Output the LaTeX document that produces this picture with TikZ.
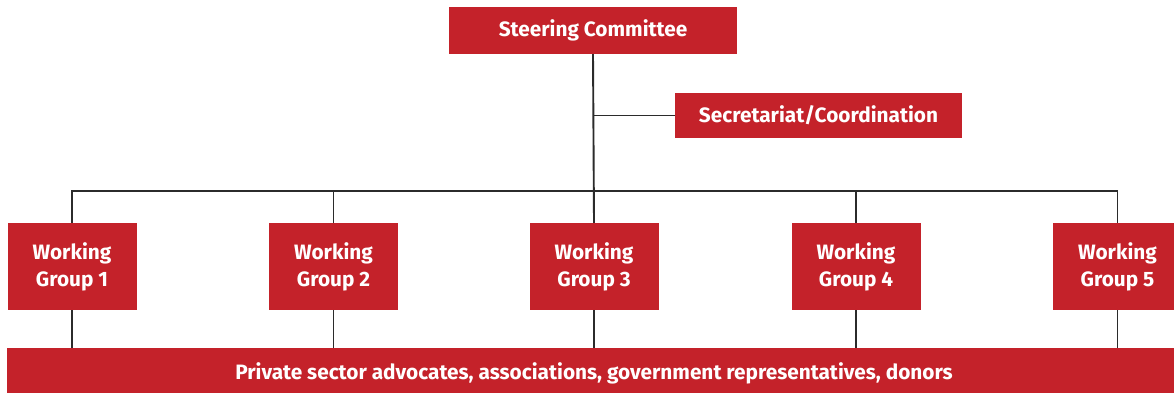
\documentclass[tikz,border=0pt]{standalone}
\usepackage{fontspec}
\setmainfont{Fira Sans}
\usetikzlibrary{calc}
\definecolor{boxred}{HTML}{C4222A}
\definecolor{linegray}{HTML}{2B2B2B}
\begin{document}
\begin{tikzpicture}[x=1pt,y=-1pt,
  redbox/.style={fill=boxred, draw=none, text=white, inner sep=0pt,
    font=\fontsize{20.8}{27}\selectfont\bfseries, align=center},
  link/.style={draw=linegray, line width=1.9pt}]
  \useasboundingbox (0,0) rectangle (1174,392);
  \clip (0,0) rectangle (1174,392);
  % top level
  \node[redbox, minimum width=288pt, minimum height=47pt] (sc) at (593,30.5) {Steering Committee};
  \node[redbox, minimum width=287pt, minimum height=45pt] (sec) at (818.5,115.5) {Secretariat/Coordination};
  % working groups
  \foreach \i/\x in {1/72,2/333.5,3/594,4/856,5/1117.5}{
    \node[redbox, minimum width=129pt, minimum height=87pt] (wg\i) at (\x,266.5) {Working\\Group \i};
  }
  % stakeholder bar
  \node[redbox, minimum width=1174pt, minimum height=50pt] (bar) at (594,373) {Private sector advocates, associations, government representatives, donors};
  % connectors
  \coordinate (bus) at (594,191);
  \draw[link] (sc.south) -- (wg3.north);
  \draw[link] (sec.west) -- (sec.west -| sc.south);
  \draw[link] (wg1.north) |- (bus) -| (wg5.north);
  \foreach \i in {2,4}{
    \draw[link] (wg\i.north) -- (wg\i.north |- bus);
  }
  \foreach \i in {1,2,3,4,5}{
    \draw[link] (wg\i.south) -- (wg\i.south |- bar.north);
  }
\end{tikzpicture}
\end{document}
